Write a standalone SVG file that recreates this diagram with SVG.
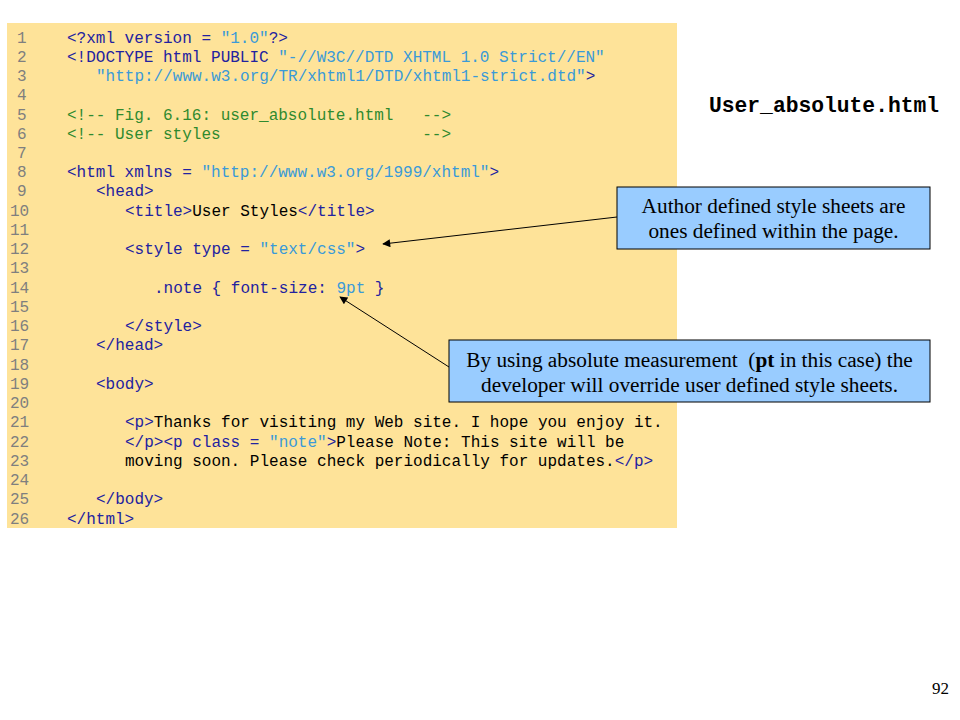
<svg xmlns="http://www.w3.org/2000/svg" width="960" height="720" viewBox="0 0 960 720">
<style>
.code{font-family:"Liberation Mono","Courier New",monospace;font-size:16px;fill:#000;white-space:pre}
.ln{fill:#7f7f7f}
.t{fill:#2222a0}
.v{fill:#3a9ad8}
.c{fill:#2f8a2f}
.k{fill:#000}
.callout{fill:#99ccff;stroke:#000;stroke-width:1}
.ct{font-family:"Liberation Serif","Times New Roman",serif;font-size:21.3px;fill:#000;text-anchor:middle;white-space:pre}
.conn{stroke:#000;stroke-width:1;fill:none;marker-end:url(#ah)}
</style>
<defs>
<marker id="ah" viewBox="0 0 10 10" refX="9" refY="5" markerWidth="11" markerHeight="8" markerUnits="userSpaceOnUse" orient="auto">
<path d="M0,0 L10,5 L0,10 z" fill="#000"/>
</marker>
</defs>
<rect x="0" y="0" width="960" height="720" fill="#fff"/>
<g id="code-panel">
<rect x="7" y="23" width="670" height="505" fill="#fee399"/>
<g class="code" xml:space="preserve">
<text class="ln" x="17" y="42.5">1</text>
<text class="ln" x="17" y="61.7">2</text>
<text class="ln" x="17" y="81">3</text>
<text class="ln" x="17" y="100.2">4</text>
<text class="ln" x="17" y="119.5">5</text>
<text class="ln" x="17" y="138.7">6</text>
<text class="ln" x="17" y="157.9">7</text>
<text class="ln" x="17" y="177.2">8</text>
<text class="ln" x="17" y="196.4">9</text>
<text class="ln" x="10" y="215.7">10</text>
<text class="ln" x="10" y="234.9">11</text>
<text class="ln" x="10" y="254.1">12</text>
<text class="ln" x="10" y="273.4">13</text>
<text class="ln" x="10" y="292.6">14</text>
<text class="ln" x="10" y="311.9">15</text>
<text class="ln" x="10" y="331.1">16</text>
<text class="ln" x="10" y="350.3">17</text>
<text class="ln" x="10" y="369.6">18</text>
<text class="ln" x="10" y="388.8">19</text>
<text class="ln" x="10" y="408.1">20</text>
<text class="ln" x="10" y="427.3">21</text>
<text class="ln" x="10" y="446.5">22</text>
<text class="ln" x="10" y="465.8">23</text>
<text class="ln" x="10" y="485">24</text>
<text class="ln" x="10" y="504.3">25</text>
<text class="ln" x="10" y="523.5">26</text>
<text x="67" y="42.5"><tspan class="t">&lt;?xml version = </tspan><tspan class="v">"1.0"</tspan><tspan class="t">?&gt;</tspan></text>
<text x="67" y="61.7"><tspan class="t">&lt;!DOCTYPE html PUBLIC </tspan><tspan class="v">"-//W3C//DTD XHTML 1.0 Strict//EN"</tspan></text>
<text x="96" y="81"><tspan class="v">"http://www.w3.org/TR/xhtml1/DTD/xhtml1-strict.dtd"</tspan><tspan class="t">&gt;</tspan></text>
<text x="67" y="119.5" class="c" xml:space="preserve">&lt;!-- Fig. 6.16: user_absolute.html   --&gt;</text>
<text x="67" y="138.7" class="c" xml:space="preserve">&lt;!-- User styles                     --&gt;</text>
<text x="67" y="177.2"><tspan class="t">&lt;html xmlns = </tspan><tspan class="v">"http://www.w3.org/1999/xhtml"</tspan><tspan class="t">&gt;</tspan></text>
<text x="96" y="196.4" class="t">&lt;head&gt;</text>
<text x="125" y="215.7"><tspan class="t">&lt;title&gt;</tspan><tspan class="k">User Styles</tspan><tspan class="t">&lt;/title&gt;</tspan></text>
<text x="125" y="254.1"><tspan class="t">&lt;style type = </tspan><tspan class="v">"text/css"</tspan><tspan class="t">&gt;</tspan></text>
<text x="154" y="292.6"><tspan class="t">.note { font-size: </tspan><tspan class="v">9pt</tspan><tspan class="t"> }</tspan></text>
<text x="125" y="331.1" class="t">&lt;/style&gt;</text>
<text x="96" y="350.3" class="t">&lt;/head&gt;</text>
<text x="96" y="388.8" class="t">&lt;body&gt;</text>
<text x="125" y="427.3"><tspan class="t">&lt;p&gt;</tspan><tspan class="k">Thanks for visiting my Web site. I hope you enjoy it.</tspan></text>
<text x="125" y="446.5"><tspan class="t">&lt;/p&gt;&lt;p class = </tspan><tspan class="v">"note"</tspan><tspan class="t">&gt;</tspan><tspan class="k">Please Note: This site will be</tspan></text>
<text x="125" y="465.8"><tspan class="k">moving soon. Please check periodically for updates.</tspan><tspan class="t">&lt;/p&gt;</tspan></text>
<text x="96" y="504.3" class="t">&lt;/body&gt;</text>
<text x="67" y="523.5" class="t">&lt;/html&gt;</text>
</g>
</g>
<g id="title">
<text x="709" y="112" font-family="Liberation Mono, Courier New, monospace" font-size="21.3" font-weight="bold" fill="#000">User_absolute.html</text>
</g>
<g id="connectors">
<line class="conn" x1="617" y1="217" x2="383" y2="244"/>
<line class="conn" x1="449" y1="367" x2="340" y2="297"/>
</g>
<g id="callout-author">
<rect class="callout" x="617" y="187" width="313" height="62"/>
<text class="ct" x="773.5" y="213">Author defined style sheets are</text>
<text class="ct" x="773.5" y="237.5">ones defined within the page.</text>
</g>
<g id="callout-absolute">
<rect class="callout" x="449" y="340" width="481" height="62"/>
<text class="ct" x="689.5" y="367" xml:space="preserve">By using absolute measurement  (<tspan font-weight="bold">pt</tspan> in this case) the</text>
<text class="ct" x="689.5" y="391.5">developer will override user defined style sheets.</text>
</g>
<g id="page-number">
<text x="949" y="694" text-anchor="end" font-family="Liberation Serif, Times New Roman, serif" font-size="17" fill="#000">92</text>
</g>
</svg>
